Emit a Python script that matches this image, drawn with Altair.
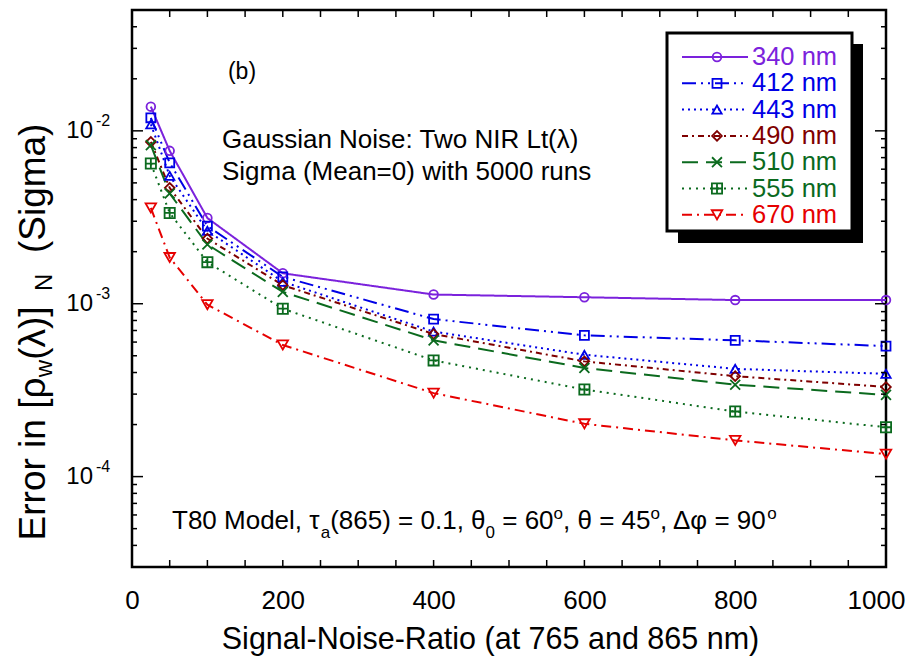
import altair as alt
import pandas as pd

# ---------------- data ----------------
snr = [25, 50, 100, 200, 400, 600, 800, 1000]
series_names = ["340 nm", "412 nm", "443 nm", "490 nm", "510 nm", "555 nm", "670 nm"]
err_340 = [1.38e-2, 7.66e-3, 3.13e-3, 1.50e-3, 1.13e-3, 1.09e-3, 1.05e-3, 1.05e-3]
err_412 = [1.19e-2, 6.53e-3, 2.81e-3, 1.43e-3, 8.15e-4, 6.56e-4, 6.14e-4, 5.69e-4]
err_443 = [1.09e-2, 5.49e-3, 2.64e-3, 1.34e-3, 6.90e-4, 5.07e-4, 4.20e-4, 3.93e-4]
err_490 = [8.63e-3, 4.68e-3, 2.38e-3, 1.28e-3, 6.68e-4, 4.64e-4, 3.81e-4, 3.30e-4]
err_510 = [8.26e-3, 4.34e-3, 2.20e-3, 1.17e-3, 6.14e-4, 4.25e-4, 3.40e-4, 2.97e-4]
err_555 = [6.47e-3, 3.35e-3, 1.74e-3, 9.36e-4, 4.70e-4, 3.19e-4, 2.38e-4, 1.93e-4]
err_670 = [3.58e-3, 1.85e-3, 9.87e-4, 5.77e-4, 3.04e-4, 2.02e-4, 1.62e-4, 1.35e-4]
all_err = [err_340, err_412, err_443, err_490, err_510, err_555, err_670]

x_tick_labels = [0, 200, 400, 600, 800, 1000]
y_major = [1e-4, 1e-3, 1e-2]
y_major_exp = ["-4", "-3", "-2"]

x_title = "Signal-Noise-Ratio (at 765 and 865 nm)"
panel_label = "(b)"
note_lines = ["Gaussian Noise: Two NIR Lt(λ)", "Sigma (Mean=0) with 5000 runs"]
# rich text pieces: (text, kind) kind: n=normal, sub, sup
bottom_pieces = [("T80 Model, τ", "n"), ("a", "sub"), ("(865) = 0.1, θ", "n"), ("0", "sub"),
                 (" = 60", "n"), ("o", "sup"), (", θ = 45", "n"), ("o", "sup"),
                 (", Δφ = 90", "n"), ("o", "sup")]
ytitle_pieces = [("Error in [ρ", "n"), ("w", "sub"), ("(λ)]", "n"), ("  N", "sub"),
                 ("  (Sigma)", "n")]

# ---------------- styles ----------------
colors = ["#7B22DC", "#0000E6", "#0000E6", "#7F0000", "#0B6A1E", "#0B6A1E", "#E60000"]
dashes = [[1, 0], [14, 5, 2, 5, 2, 5], [2, 4], [6, 4, 2, 4], [16, 8], [2, 5], [10, 5, 2, 5]]
shapes = ["circle", "square", "triangle-up", "diamond", "M-1,-1L1,1M-1,1L1,-1",
          "M-1,-1L1,-1L1,1L-1,1Z M0,-1L0,1 M-1,0L1,0", "triangle-down"]
sizes = [75, 110, 90, 90, 90, 110, 90]

FONT = "Liberation Sans"
W, H = 754, 557

rows = []
for name, vals in zip(series_names, all_err):
    for x, v in zip(snr, vals):
        rows.append({"snr": x, "err": v, "series": name})
df = pd.DataFrame(rows)

xscale = alt.Scale(domain=[0, 1000], nice=False, zero=False)
yscale = alt.Scale(type="log", domain=[3e-5, 5e-2], nice=False)
x_axis = alt.Axis(values=x_tick_labels, format="d", ticks=False, tickSize=0, domain=False, grid=False,
                  labelFontSize=26, labelPadding=20, labelColor="black", labelFont=FONT,
                  labelFlush=False, labelOverlap=False,
                  labelOffset={"condition": {"test": "datum.value >= 1000", "value": -10}, "value": 0},
                  title=x_title, titleFontSize=30.5, titleFontWeight="normal", titleFont=FONT,
                  titleColor="black", titleX=358, titleY=81, titleBaseline="alphabetic")
color = alt.Color("series:N", scale=alt.Scale(domain=series_names, range=colors), legend=None)
dash = alt.StrokeDash("series:N", scale=alt.Scale(domain=series_names, range=dashes), legend=None)
shape = alt.Shape("series:N", scale=alt.Scale(domain=series_names, range=shapes), legend=None)
size = alt.Size("series:N", scale=alt.Scale(domain=series_names, range=sizes), legend=None)

lines = alt.Chart(df).mark_line(strokeWidth=2).encode(
    x=alt.X("snr:Q", scale=xscale, axis=x_axis),
    y=alt.Y("err:Q", scale=yscale, axis=None),
    color=color, strokeDash=dash,
)
points = alt.Chart(df).mark_point(filled=False, strokeWidth=1.8, opacity=1).encode(
    x=alt.X("snr:Q", scale=xscale, axis=x_axis),
    y=alt.Y("err:Q", scale=yscale, axis=None),
    color=color, shape=shape, size=size,
)

# ---------------- inward ticks ----------------
xt_df = pd.DataFrame({"v": list(range(0, 1001, 50))})
y_minor = [m * 10.0 ** k for k in (-5, -4, -3, -2) for m in range(2, 10) if 3e-5 <= m * 10.0 ** k <= 5e-2]
ymaj_df = pd.DataFrame({"v": y_major})
ymin_df = pd.DataFrame({"v": y_minor})

def xticks(y0, y1):
    return alt.Chart(xt_df).mark_rule(color="black", strokeWidth=1.5).encode(
        x=alt.X("v:Q", scale=xscale, axis=x_axis), y=alt.value(y0), y2=alt.value(y1))

def yticks(d, x0, x1):
    return alt.Chart(d).mark_rule(color="black", strokeWidth=1.5).encode(
        y=alt.Y("v:Q", scale=yscale, axis=None), x=alt.value(x0), x2=alt.value(x1))

ticks = [xticks(H, H - 7), xticks(0, 7),
         yticks(ymaj_df, 0, 11), yticks(ymin_df, 0, 5),
         yticks(ymaj_df, W, W - 11), yticks(ymin_df, W, W - 5)]

# ---------------- y tick labels 10^k ----------------
ylab_df = pd.DataFrame({"v": y_major, "exp": y_major_exp})
ylab_base = alt.Chart(ylab_df).mark_text(align="right", baseline="middle", fontSize=24, font=FONT,
                                         color="black").encode(
    y=alt.Y("v:Q", scale=yscale, axis=None), x=alt.value(-39), text=alt.value("10"))
ylab_exp = alt.Chart(ylab_df).mark_text(align="left", baseline="middle", fontSize=16, font=FONT,
                                        color="black", dy=-10).encode(
    y=alt.Y("v:Q", scale=yscale, axis=None), x=alt.value(-36), text="exp:N")

# ---------------- text width helper ----------------
AW = {' ': .278, 'T': .611, '8': .556, '0': .556, 'M': .833, 'o': .556, 'd': .556, 'e': .556,
      'l': .222, ',': .278, 'τ': .44, 'a': .556, '(': .333, '6': .556, '5': .556, ')': .333,
      '=': .584, '.': .278, '1': .556, 'θ': .556, '4': .556, 'Δ': .668, 'φ': .65, '9': .556,
      'E': .667, 'r': .333, 'i': .222, 'n': .556, '[': .278, 'ρ': .578, 'w': .722, 'λ': .556,
      ']': .278, 'N': .722, 'S': .667, 'g': .556, 'm': .833}

def tw(s, fs):
    return sum(AW.get(c, .556) for c in s) * fs

def split_lead(t):
    s = t.lstrip(" ")
    return s, t[:len(t) - len(s)]

one = alt.Data(values=[{}])
texts = []

# bottom annotation (horizontal rich text)
fs_main, fs_small = 26, 17
cx = 40
for t, kind in bottom_pieces:
    f = fs_main if kind == "n" else fs_small
    s, lead = split_lead(t)
    cx += tw(lead, f)
    dy = 0 if kind == "n" else (9 if kind == "sub" else -10)
    texts.append(alt.Chart(one).mark_text(align="left", baseline="alphabetic", fontSize=f, font=FONT,
                                          color="black", dy=dy).encode(
        x=alt.value(cx), y=alt.value(519), text=alt.value(s)))
    cx += tw(s, f)

# rotated y title (reads bottom to top)
fs_t, fs_ts = 37, 24
total = sum(tw(t, fs_t if k == "n" else fs_ts) for t, k in ytitle_pieces)
cy = 322 + total / 2
for t, kind in ytitle_pieces:
    f = fs_t if kind == "n" else fs_ts
    s, lead = split_lead(t)
    cy -= tw(lead, f)
    xoff = 0 if kind == "n" else 11
    texts.append(alt.Chart(one).mark_text(align="left", baseline="middle", fontSize=f, font=FONT,
                                          color="black", angle=270).encode(
        x=alt.value(-98 + xoff), y=alt.value(cy), text=alt.value(s)))
    cy -= tw(s, f)

texts.append(alt.Chart(one).mark_text(align="center", baseline="middle", fontSize=23, font=FONT,
                                      color="black").encode(
    x=alt.value(110), y=alt.value(62), text=alt.value(panel_label)))
for i, line in enumerate(note_lines):
    texts.append(alt.Chart(one).mark_text(align="left", baseline="alphabetic", fontSize=26, font=FONT,
                                          color="black").encode(
        x=alt.value(90), y=alt.value(138 + 32 * i), text=alt.value(line)))

# ---------------- custom legend ----------------
legend = [
    alt.Chart(one).mark_rect(fill="black").encode(
        x=alt.value(546), x2=alt.value(731), y=alt.value(34), y2=alt.value(233)),
    alt.Chart(one).mark_rect(fill="white", stroke="black", strokeWidth=3).encode(
        x=alt.value(535), x2=alt.value(720), y=alt.value(23), y2=alt.value(221)),
]
for i, name in enumerate(series_names):
    ld = pd.DataFrame({"series": [name]})
    ly = 47 + i * 26.3
    legend.append(alt.Chart(ld).mark_rule(strokeWidth=2).encode(
        x=alt.value(550), x2=alt.value(616), y=alt.value(ly), color=color, strokeDash=dash))
    legend.append(alt.Chart(ld).mark_point(filled=False, strokeWidth=1.8, opacity=1).encode(
        x=alt.value(585), y=alt.value(ly), color=color, shape=shape, size=size))
    legend.append(alt.Chart(ld).mark_text(align="left", baseline="middle", fontSize=25.5, font=FONT).encode(
        x=alt.value(620), y=alt.value(ly), color=color, text="series:N"))

chart = alt.layer(lines, points, *ticks, ylab_base, ylab_exp, *texts, *legend).properties(
    width=W, height=H,
    autosize=alt.AutoSizeParams(type="none"),
    padding={"left": 124, "top": 2, "right": 21, "bottom": 89},
).configure(font=FONT).configure_view(stroke="black", strokeWidth=2.5)

chart.save("out.html", embed_options={"renderer": "svg", "actions": False})
